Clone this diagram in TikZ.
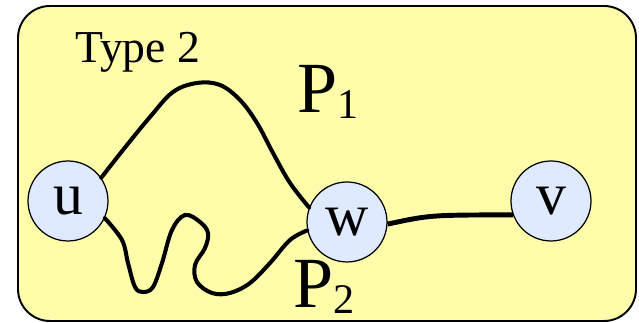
\documentclass[tikz,border=0pt]{standalone}
\usepackage{fontspec}
\setmainfont{Liberation Serif}
\newfontfamily\labelfont{Liberation Serif}
\usepackage{tikz}
\usetikzlibrary{arrows.meta, backgrounds}
\definecolor{my_yellow}{HTML}{FFFDAA}
\definecolor{my_lightblue}{HTML}{DFE9FF}
\definecolor{my_black}{HTML}{000000}

\tikzset{
    vertex/.style={circle, draw=my_black, fill=my_lightblue, line width=0.7pt,
        minimum size=1.6cm, inner sep=0pt,
        font=\labelfont\fontsize{34}{34}\selectfont},
    path line/.style={my_black, line width=2.3pt, line cap=round},
    path label/.style={anchor=base west, inner sep=0pt,
        font=\labelfont\fontsize{41}{41}\selectfont}
}

\begin{document}
\begin{tikzpicture}[x=0.02cm, y=0.02cm]
\useasboundingbox (0,0) rectangle (639,323);

% -------- Frame (Type 2) ------------------------------------
\draw[my_black, fill=my_yellow, line width=1.1pt, rounded corners=0.64cm]
    (18,2) rectangle (636,317);
\node[anchor=base west, inner sep=0pt,
      font=\labelfont\fontsize{26}{26}\selectfont]
    (type) at (75,260) {Type 2};

% -------- Vertices ------------------------------------------
\node[vertex] (u) at (68,122)  {u};
\node[vertex] (w) at (347,101) {w};
\node[vertex] (v) at (551,122) {v};

% -------- Path P1 (upper arc u -> w) ------------------------
\draw[path line] plot[smooth, tension=0.6] coordinates {
    (u.35) (123,173) (150,206) (173,231) (197,240) (220,238)
    (240,223) (257,200) (273,170) (290,140) (w.159)};

% -------- Path P2 (wiggly path u -> w) ----------------------
\draw[path line] plot[smooth, tension=0.6] coordinates {
    (u.-25) (122,83) (128,60) (135,36) (143,31) (153,36) (162,60)
    (172,93) (185,108) (200,101) (208,90) (205,75) (195,58) (197,41)
    (212,30) (230,30) (250,40) (270,60) (290,83) (w.192)};

% -------- Edge w -- v ---------------------------------------
\draw[path line, line width=2.8pt, line cap=butt]
    (w.-3) .. controls (430,108) .. (v.200);

% -------- Path labels ---------------------------------------
\node[path label] (p1) at (297,210)
    {P\raisebox{-3pt}{\fontsize{24}{24}\selectfont 1}};
\node[path label] (p2) at (293,15)
    {P\raisebox{-3pt}{\fontsize{24}{24}\selectfont 2}};

\end{tikzpicture}
\end{document}
